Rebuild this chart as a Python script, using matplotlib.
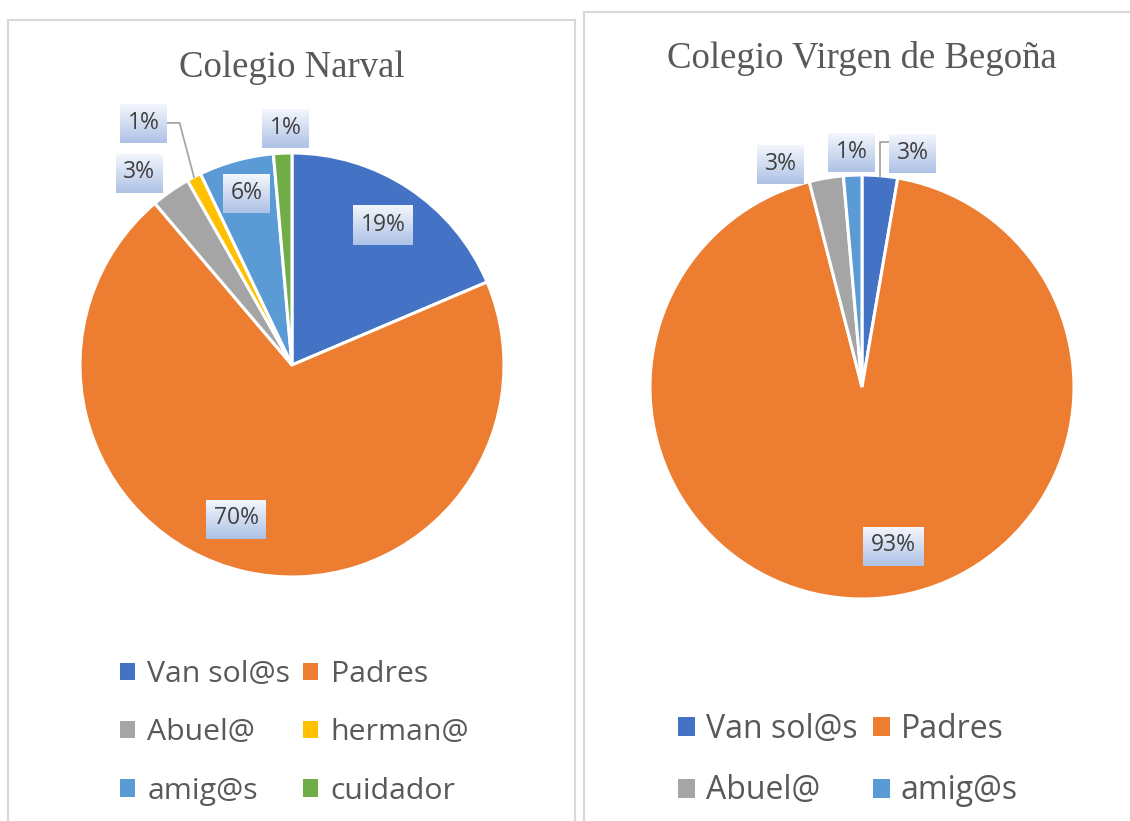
import numpy as np
import matplotlib
matplotlib.use("Agg")
import matplotlib.pyplot as plt
from matplotlib.patches import Rectangle, Patch
from matplotlib.lines import Line2D

# ---------------- data ----------------
narval_labels = ["Van sol@s", "Padres", "Abuel@", "herman@", "amig@s", "cuidador"]
narval_values = [18.6, 70.2, 3.0, 1.1, 5.7, 1.4]
narval_colors = ["#4472c4", "#ed7d31", "#a5a5a5", "#ffc000", "#5b9bd5", "#70ad47"]

begona_labels = ["Van sol@s", "Padres", "Abuel@", "amig@s"]
begona_values = [2.7, 93.3, 2.6, 1.4]
begona_colors = ["#4472c4", "#ed7d31", "#a5a5a5", "#5b9bd5"]

titles = ["Colegio Narval", "Colegio Virgen de Begoña"]

# label placement styling: (radius, angle offset in degrees)
narval_lab_r = [0.79, 0.77, 1.16, 1.34, 0.84, 1.12]
narval_lab_d = [0.5, -6.6, 3.5, 4.0, -0.6, -1.0]
narval_leader = [None, None, None, "left", None, None]
begona_lab_r = [1.13, 0.76, 1.12, 1.11]
begona_lab_d = [-7.3, 8.8, 10.3, 0.0]
begona_leader = ["right", None, None, None]

W, H = 1130, 821
fig = plt.figure(figsize=(W / 100, H / 100), dpi=100)
fig.patch.set_facecolor("white")

# panel borders
fig.patches.append(Rectangle((8 / W, -0.05), (575 - 8) / W, (H - 20) / H + 0.05,
                             transform=fig.transFigure, fill=False,
                             edgecolor="#d9d9d9", lw=1.5, zorder=0))
fig.patches.append(Rectangle((584 / W, -0.05), (1140 - 584) / W, (H - 12) / H + 0.05,
                             transform=fig.transFigure, fill=False,
                             edgecolor="#d9d9d9", lw=1.5, zorder=0))

R_PX = 212
LIM = 1.35


def make_ax(cx, cy):
    half = LIM * R_PX
    ax = fig.add_axes([(cx - half) / W, (H - cy - half) / H, 2 * half / W, 2 * half / H])
    ax.set_xlim(-LIM, LIM)
    ax.set_ylim(-LIM, LIM)
    ax.set_aspect("equal")
    ax.axis("off")
    return ax


def draw_pie(ax, values, colors, lab_r, lab_d, leaders):
    wedges, _ = ax.pie(values, colors=colors, startangle=90, counterclock=False,
                       wedgeprops=dict(edgecolor="white", linewidth=2.2))
    ax.set_xlim(-LIM, LIM)
    ax.set_ylim(-LIM, LIM)
    total = sum(values)
    texts = []
    for w, v, r, d in zip(wedges, values, lab_r, lab_d):
        mid = np.deg2rad((w.theta1 + w.theta2) / 2 + d)
        x, y = r * np.cos(mid), r * np.sin(mid)
        t = ax.text(x, y, f"{round(100 * v / total):.0f}%", ha="center", va="center",
                    fontsize=16.5, color="#404040", family="Open Sans", zorder=6)
        texts.append((t, x, y, w))
    return wedges, texts


def decorate(ax, texts, leaders):
    fig.canvas.draw()
    inv = ax.transData.inverted()
    grad = np.linspace(0, 1, 64)[:, None]
    top = np.array([0.955, 0.965, 0.99])
    bot = np.array([0.68, 0.76, 0.90])
    img = (top[None, None, :] * (1 - grad[..., None]) + bot[None, None, :] * grad[..., None])
    img = np.repeat(img, 2, axis=1)
    for (t, x, y, w), lead in zip(texts, leaders):
        bb = t.get_window_extent()
        cxp, cyp = ax.transData.transform((x, y))
        wpx = bb.width + 15
        hpx = 39
        (x0, y0) = inv.transform((cxp - wpx / 2, cyp - hpx / 2 - 1))
        (x1, y1) = inv.transform((cxp + wpx / 2, cyp + hpx / 2 - 1))
        ax.imshow(img, extent=[x0, x1, y0, y1], aspect="auto", zorder=5,
                  interpolation="bilinear")
        if lead is not None:
            mid = np.deg2rad((w.theta1 + w.theta2) / 2)
            sx, sy = np.cos(mid), np.sin(mid)
            if lead == "left":
                ex, ey = x1, y
                elx = x1 + 0.06
                xs, ys = [sx, elx, ex], [sy, ey, ey]
            else:
                ey = y + 0.05
                ex = x0
                xs, ys = [sx, sx, ex], [sy, ey, ey]
            ax.add_line(Line2D(xs, ys, color="#a6a6a6", lw=1.3, zorder=4))
    ax.set_xlim(-LIM, LIM)
    ax.set_ylim(-LIM, LIM)


ax1 = make_ax(292, 365)
w1, t1 = draw_pie(ax1, narval_values, narval_colors, narval_lab_r, narval_lab_d, narval_leader)
ax2 = make_ax(862, 387)
w2, t2 = draw_pie(ax2, begona_values, begona_colors, begona_lab_r, begona_lab_d, begona_leader)
decorate(ax1, t1, narval_leader)
decorate(ax2, t2, begona_leader)

# titles
fig.text(292 / W, 1 - 77 / H, titles[0], ha="center", va="baseline",
         fontsize=26.5, family="Liberation Serif", color="#595959")
fig.text(862 / W, 1 - 68 / H, titles[1], ha="center", va="baseline",
         fontsize=26.5, family="Liberation Serif", color="#595959")


def row_major(items, ncol):
    nrow = int(np.ceil(len(items) / ncol))
    return [items[r * ncol + c] for c in range(ncol) for r in range(nrow) if r * ncol + c < len(items)]


h1 = [Patch(facecolor=c, edgecolor="none") for c in narval_colors]
leg1 = fig.legend(row_major(h1, 2), row_major(narval_labels, 2), ncol=2,
                  loc="upper left", bbox_to_anchor=(120 / W, 1 - 660 / H),
                  frameon=False, borderpad=0, borderaxespad=0,
                  prop=dict(family="Open Sans", size=21.8),
                  handlelength=0.5, handleheight=0.5, handletextpad=0.4,
                  columnspacing=0.43, labelspacing=0.97)
for tx in leg1.get_texts():
    tx.set_color("#595959")

h2 = [Patch(facecolor=c, edgecolor="none") for c in begona_colors]
leg2 = fig.legend(row_major(h2, 2), row_major(begona_labels, 2), ncol=2,
                  loc="upper left", bbox_to_anchor=(678 / W, 1 - 713 / H),
                  frameon=False, borderpad=0, borderaxespad=0,
                  prop=dict(family="Open Sans", size=23),
                  handlelength=0.53, handleheight=0.53, handletextpad=0.35,
                  columnspacing=0.47, labelspacing=0.89)
for tx in leg2.get_texts():
    tx.set_color("#595959")

fig.savefig("out.png", dpi=100, facecolor="white")
